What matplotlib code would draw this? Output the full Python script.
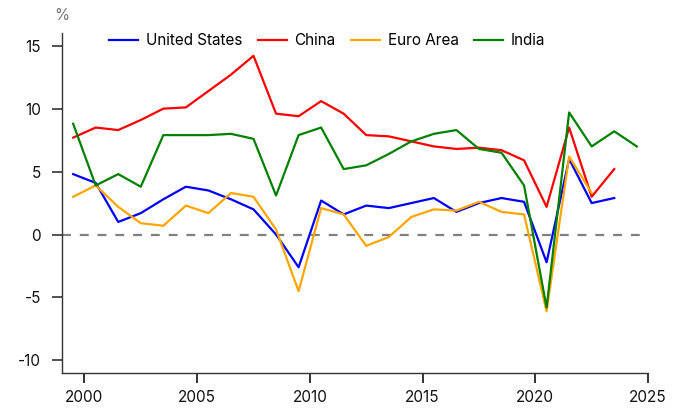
import matplotlib
matplotlib.use("Agg")
import matplotlib.pyplot as plt
import numpy as np

plt.rcParams['font.family'] = ['Inter', 'DejaVu Sans']
plt.rcParams['axes.unicode_minus'] = False

years = np.arange(1999, 2025)

us = [4.8, 4.1, 1.0, 1.7, 2.8, 3.8, 3.5, 2.8, 2.0, 0.0, -2.6, 2.7, 1.6, 2.3,
      2.1, 2.5, 2.9, 1.8, 2.5, 2.9, 2.6, -2.2, 6.0, 2.5, 2.9]
china = [7.7, 8.5, 8.3, 9.1, 10.0, 10.1, 11.4, 12.7, 14.2, 9.6, 9.4, 10.6, 9.6,
         7.9, 7.8, 7.4, 7.0, 6.8, 6.9, 6.7, 5.9, 2.2, 8.5, 3.0, 5.2]
euro = [3.0, 3.9, 2.2, 0.9, 0.7, 2.3, 1.7, 3.3, 3.0, 0.4, -4.5, 2.1, 1.6, -0.9,
        -0.2, 1.4, 2.0, 1.9, 2.6, 1.8, 1.6, -6.1, 6.2, 3.3]
india = [8.8, 3.9, 4.8, 3.8, 7.9, 7.9, 7.9, 8.0, 7.6, 3.1, 7.9, 8.5, 5.2, 5.5,
         6.4, 7.4, 8.0, 8.3, 6.8, 6.5, 3.9, -5.8, 9.7, 7.0, 8.2, 7.0]

series = [
    ('United States', us, 'blue'),
    ('China', china, 'red'),
    ('Euro Area', euro, 'orange'),
    ('India', india, 'green'),
]

fig = plt.figure(figsize=(6.8, 4.09), dpi=100)
ax = fig.add_axes([0.091, 0.088, 0.862, 0.831])

ax.axhline(0, color='grey', linestyle=(0, (4, 4)), linewidth=1.6, xmax=0.995)

for name, vals, col in series:
    ax.plot(years[:len(vals)] + 0.5, vals, color=col, linewidth=1.6, label=name)

ax.set_xlim(1999, 2025)
ax.set_ylim(-11, 16)
ax.set_xticks(range(2000, 2026, 5))
ax.set_yticks([-10, -5, 0, 5, 10, 15])

for s in ['top', 'right']:
    ax.spines[s].set_visible(False)
for s in ['left', 'bottom']:
    ax.spines[s].set_color('#333333')
    ax.spines[s].set_linewidth(1.0)

ax.tick_params(axis='y', direction='out', length=7.2, width=1.2, color='#333333',
               labelsize=11, labelcolor='#111111', pad=8)
ax.tick_params(axis='x', direction='out', length=7.2, width=1.2, color='#111111',
               labelsize=11, labelcolor='#111111', pad=5)

ax.text(0.0, 1.03, '%', transform=ax.transAxes, ha='center', va='bottom',
        fontsize=11, color='#777777')

ax.legend(loc='upper left', bbox_to_anchor=(0.07, 1.018), ncol=4, frameon=False,
          fontsize=11, handlelength=1.9, handletextpad=0.52, columnspacing=1.0,
          borderaxespad=0)

fig.savefig('out.png', dpi=100)
